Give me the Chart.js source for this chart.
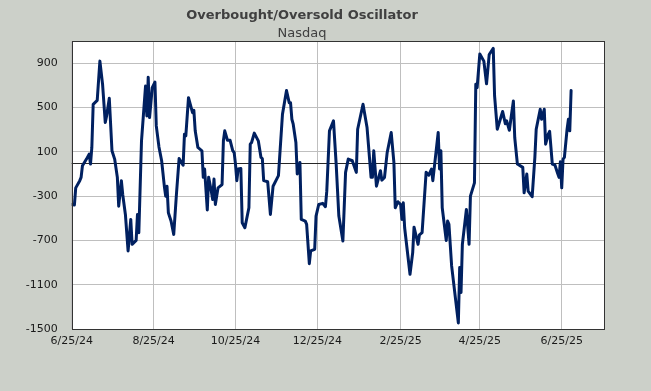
<!DOCTYPE html>
<html>
<head>
<meta charset="utf-8">
<script src="https://cdn.jsdelivr.net/npm/chart.js@4.4.0/dist/chart.umd.min.js"></script>
<style>
  html, body { margin: 0; padding: 0; background: #CCD0C9; }
  #oscChart { display: block; }
</style>
</head>
<body>
<canvas id="oscChart" width="651" height="391"></canvas>
<script>
// days counted from 6/25/24
var days = [0, 2, 3, 6, 7, 8, 11, 13, 14, 15, 16, 19, 21, 23, 25, 26, 28, 30, 32, 34, 35, 37, 38, 40, 42, 44, 45, 48, 49, 50,
    52, 55, 56, 57, 58, 60, 62, 63, 65, 67, 69, 70, 71, 72, 74, 76, 78, 80, 83, 84, 85, 87, 89, 90, 91, 92, 94, 97, 98, 99,
    101, 102, 104, 105, 106, 107, 109, 112, 113, 114, 116, 118, 120, 121, 122, 123, 124, 126, 127, 129, 132, 133, 134, 136, 139, 141, 142, 143, 146, 148,
    150, 154, 157, 160, 162, 163, 164, 165, 167, 168, 170, 171, 174, 175, 177, 178, 181, 182, 184, 187, 189, 190, 192, 195, 197, 199, 202, 204, 206, 209,
    212, 213, 217, 220, 223, 224, 225, 227, 230, 231, 233, 235, 238, 240, 241, 243, 245, 246, 247, 248, 252, 254, 255, 258, 259, 261, 264, 266, 268, 269,
    273, 274, 275, 276, 279, 280, 281, 283, 288, 289, 290, 291, 294, 296, 297, 300, 301, 302, 304, 307, 309, 311, 314, 315, 317, 321, 323, 324, 326, 329,
    330, 332, 336, 337, 339, 340, 343, 345, 346, 349, 350, 352, 353, 355, 356, 358, 360, 362, 363, 364, 365, 366, 367, 369, 370, 371, 372];

var oscValues = [-375, -380, -225, -160, -130, -25, 35, 80, -10, 140, 530, 565, 920, 710, 365, 425, 585, 110, 35, -130, -390, -160, -285, -465, -795, -510, -735, -700, -465, -630,
    200, 695, 425, 775, 410, 680, 730, 335, 145, 20, -210, -300, -210, -450, -525, -645, -285, 40, -20, 260, 245, 590, 500, 455, 475, 290, 140, 110, -130, -55,
    -425, -130, -255, -330, -145, -375, -225, -195, 200, 290, 205, 205, 110, 95, -10, -160, -55, -50, -540, -585, -405, 170, 185, 270, 200, 50, 40, -160, -170, -465,
    -210, -115, 440, 655, 545, 545, 395, 350, 185, -100, 5, -510, -525, -555, -910, -795, -780, -480, -375, -365, -395, -255, 290, 380, -10, -480, -705, -85, 35, 20,
    -85, 305, 530, 320, -130, -130, 110, -210, -70, -155, -130, 95, 275, 5, -405, -350, -375, -510, -360, -585, -1005, -810, -580, -735, -650, -630, -85, -110, -55, -160,
    275, -55, 110, -405, -700, -525, -555, -930, -1445, -945, -1170, -735, -420, -735, -300, -180, 710, 680, 985, 920, 715, 980, 1035, 605, 305, 465, 355, 380, 295, 560,
    230, -10, -40, -270, -100, -255, -305, 50, 305, 485, 395, 485, 170, 260, 285, -10, -20, -95, -130, 10, -225, 35, 50, 305, 395, 290, 655];

var tickDays = [0, 61, 122, 183, 245, 304, 365];
var tickLabels = ['6/25/24', '8/25/24', '10/25/24', '12/25/24', '2/25/25', '4/25/25', '6/25/25'];
var yTicks = [-1500, -1100, -700, -300, 100, 500, 900];

var points = [];
for (var i = 0; i < days.length; i++) {
    points.push({ x: days[i], y: oscValues[i] });
}

var tickFont = { family: 'DejaVu Sans', size: 11 };

// grey page, zero line and black frame round the plot
var chartDecor = {
    id: 'chartDecor',
    beforeDraw: function (chart) {
        var ctx = chart.ctx;
        ctx.save();
        ctx.fillStyle = '#CCD0C9';
        ctx.fillRect(0, 0, chart.width, chart.height);
        var a = chart.chartArea;
        ctx.fillStyle = '#FFFFFF';
        ctx.fillRect(a.left, a.top, a.right - a.left, a.bottom - a.top);
        ctx.restore();
    },
    beforeDatasetsDraw: function (chart) {
        var ctx = chart.ctx;
        var a = chart.chartArea;
        var y0 = Math.round(chart.scales.y.getPixelForValue(0)) + 0.5;
        ctx.save();
        ctx.strokeStyle = '#262626';
        ctx.lineWidth = 1;
        ctx.beginPath();
        ctx.moveTo(a.left, y0);
        ctx.lineTo(a.right, y0);
        ctx.stroke();
        ctx.restore();
    },
    afterDraw: function (chart) {
        var ctx = chart.ctx;
        var a = chart.chartArea;
        ctx.save();
        ctx.strokeStyle = '#333333';
        ctx.lineWidth = 1;
        ctx.strokeRect(Math.round(a.left) + 0.5, Math.round(a.top) + 0.5,
            Math.round(a.right - a.left), Math.round(a.bottom - a.top));
        ctx.restore();
    }
};

var oscChart = new Chart(document.getElementById('oscChart').getContext('2d'), {
    type: 'line',
    data: {
        datasets: [{
            data: points,
            borderColor: '#002060',
            borderWidth: 3,
            pointRadius: 0,
            tension: 0,
            borderJoinStyle: 'round',
            borderCapStyle: 'round',
            fill: false
        }]
    },
    options: {
        responsive: false,
        animation: false,
        layout: { padding: { left: 0, right: 47, top: 0, bottom: 0 } },
        plugins: {
            legend: { display: false },
            tooltip: { enabled: false },
            title: {
                display: true,
                text: 'Overbought/Oversold Oscillator',
                color: '#404040',
                font: { family: 'DejaVu Sans', size: 13, weight: 'bold' },
                padding: { top: 8, bottom: 0 }
            },
            subtitle: {
                display: true,
                text: 'Nasdaq',
                color: '#404040',
                font: { family: 'DejaVu Sans', size: 13 },
                padding: { top: 2, bottom: 0 }
            }
        },
        scales: {
            x: {
                type: 'linear',
                min: 0,
                max: 396.5,
                afterBuildTicks: function (axis) {
                    axis.ticks = tickDays.map(function (v) { return { value: v }; });
                },
                afterFit: function (scale) { scale.height = 62; },
                ticks: {
                    callback: function (value) { return tickLabels[tickDays.indexOf(value)]; },
                    color: '#1a1a1a',
                    font: tickFont,
                    padding: 6,
                    maxRotation: 0,
                    autoSkip: false
                },
                grid: { color: '#BFBFBF', drawTicks: false },
                border: { display: false }
            },
            y: {
                min: -1500,
                max: 1100,
                afterBuildTicks: function (axis) {
                    axis.ticks = yTicks.map(function (v) { return { value: v }; });
                },
                afterFit: function (scale) { scale.width = 71.7; },
                ticks: {
                    callback: function (value) { return String(value); },
                    color: '#1a1a1a',
                    font: tickFont,
                    padding: 14
                },
                grid: { color: '#BFBFBF', drawTicks: false },
                border: { display: false }
            }
        }
    },
    plugins: [chartDecor]
});
</script>
</body>
</html>
